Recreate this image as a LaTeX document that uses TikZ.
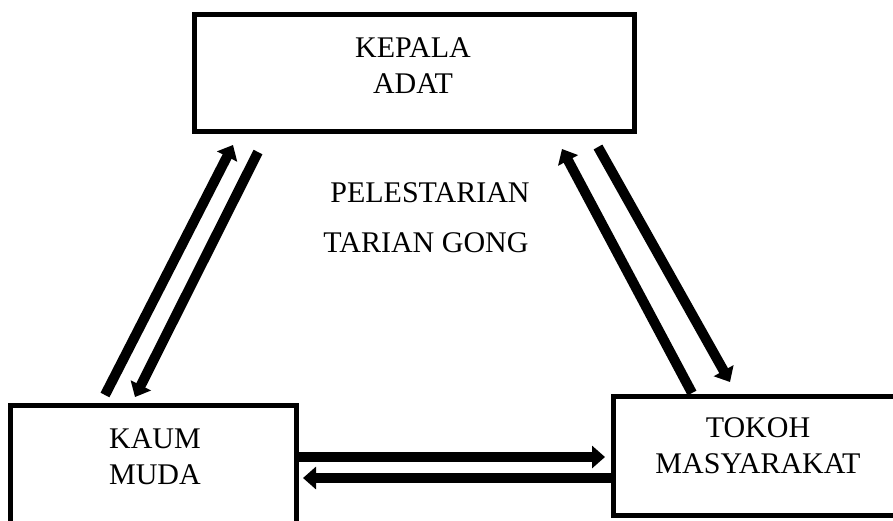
\documentclass[tikz,border=0pt]{standalone}
\usepackage{fontspec}
\setmainfont{Liberation Serif}
\usetikzlibrary{arrows.meta}
\begin{document}
\begin{tikzpicture}[x=1pt,y=-1pt,
  box/.style={draw=black,line width=5.5pt,rectangle,inner sep=0pt,fill=none},
  lbl/.style={font=\fontsize{30}{36}\selectfont,inner sep=0pt,anchor=base,align=center},
  conn/.style={line width=10pt,-{Triangle[width=22pt,length=13pt]}}]
\useasboundingbox (0,0) rectangle (893,520);
% boxes
\node[box,minimum width=440pt,minimum height=117pt] (kepala) at (414.5,73) {};
\node[box,minimum width=286pt,minimum height=154.5pt] (kaum) at (153.5,482.75) {};
\node[box,minimum width=296.5pt,minimum height=119pt] (tokoh) at (761.75,456) {};
% texts
\node[lbl] (tkepala) at (413,93) {KEPALA\\ADAT};
\node[lbl] (tkaum) at (155,484) {KAUM\\MUDA};
\node[lbl] (ttokoh) at (758,473) {TOKOH\\MASYARAKAT};
\node[lbl] (tpel) at (430,202) {PELESTARIAN};
\node[lbl] (ttar) at (426,252) {TARIAN GONG};
% connector end points
\coordinate (a1s) at (105,395);
\coordinate (a1e) at (233,145);
\coordinate (a2s) at (258,152);
\coordinate (a2e) at (135,397);
\coordinate (a3s) at (692,393);
\coordinate (a3e) at (562,149);
\coordinate (a4s) at (598,147);
\coordinate (a4e) at (730,382);
\coordinate (a5e) at (605,457);
\coordinate (a6e) at (303,478);
% connectors
\draw[conn] (a1s) -- (a1e);
\draw[conn] (a2s) -- (a2e);
\draw[conn] (a3s) -- (a3e);
\draw[conn] (a4s) -- (a4e);
\draw[conn] (kaum.east |- a5e) -- (a5e);
\draw[conn] (tokoh.west |- a6e) -- (a6e);
\end{tikzpicture}
\end{document}
